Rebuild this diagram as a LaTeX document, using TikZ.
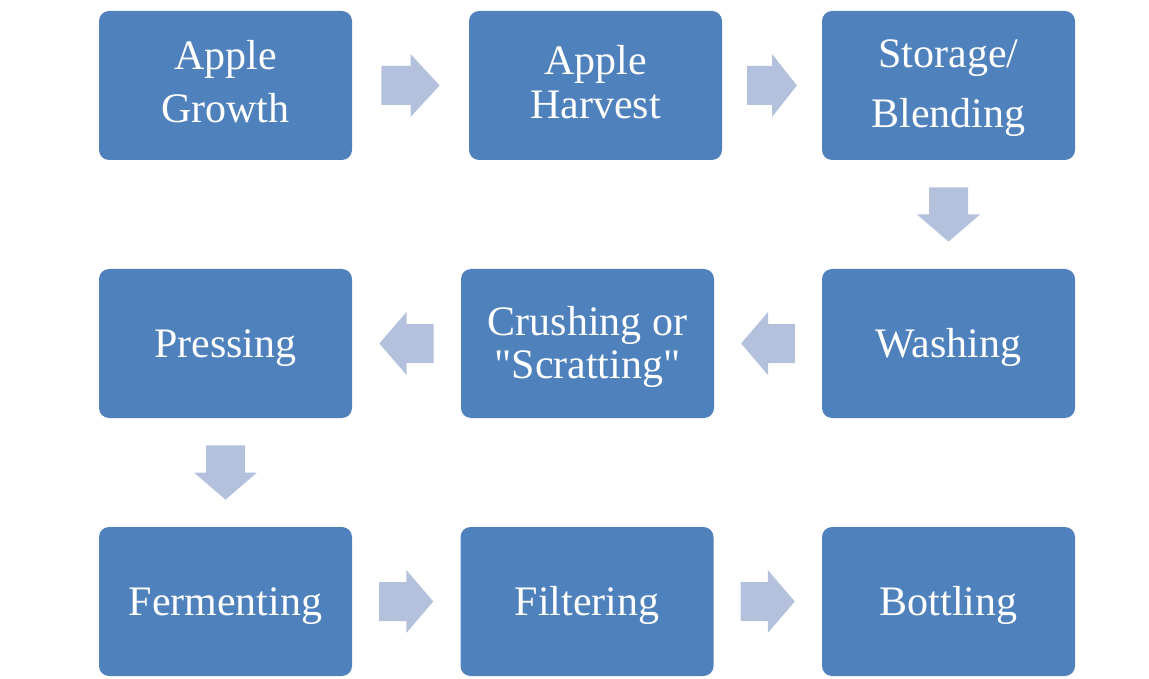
\documentclass[tikz,border=0pt]{standalone}
\usepackage{fontspec}
\setmainfont{Liberation Serif}[Ligatures=TeXOff]
\usetikzlibrary{calc}

\definecolor{stepblue}{RGB}{79,129,189}
\definecolor{arrowblue}{RGB}{179,193,221}

\tikzset{
  stepbox/.style={rectangle, rounded corners=10pt, fill=stepblue, draw=none,
    minimum width=253pt, minimum height=149pt, inner sep=0pt,
    text=white, align=center},
  oneline/.style={font=\fontsize{42}{50}\selectfont, text height=27.8pt, text depth=0pt},
  twoline/.style={font=\fontsize{42}{#1}\selectfont},
}

% two centred lines, one baselineskip apart, moved up by #1 (box size unchanged)
\newcommand{\steplines}[3]{\raisebox{#1}[\height][\depth]{\begin{tabular}{@{}c@{}}#2\\#3\end{tabular}}}

% block arrow filling the middle half of the gap between two anchors
\newcommand{\blockarrow}[2]{%
  \path ($(#1)!0.25!(#2)$) coordinate (ba-s)
        ($(#1)!0.5!(#2)$)  coordinate (ba-m)
        ($(#1)!0.75!(#2)$) coordinate (ba-e);
  \fill[arrowblue]
    ($(ba-s)!19.5pt!90:(ba-e)$) --
    ($(ba-m)!19.5pt!90:(ba-e)$) --
    ($(ba-m)!31.5pt!90:(ba-e)$) --
    (ba-e) --
    ($(ba-m)!31.5pt!-90:(ba-e)$) --
    ($(ba-m)!19.5pt!-90:(ba-e)$) --
    ($(ba-s)!19.5pt!-90:(ba-e)$) -- cycle;}

\begin{document}
\begin{tikzpicture}[x=1pt, y=-1pt]
  \useasboundingbox (0,0) rectangle (1149,679);

  % first row
  \node[stepbox, twoline=53] (growth)  at (225.5, 85.5) {\steplines{0pt}{Apple}{Growth}};
  \node[stepbox, twoline=44] (harvest) at (595.5, 85.5) {\steplines{-2.7pt}{Apple}{Harvest}};
  \node[stepbox, twoline=60] (storage) at (948.5, 85.5) {\steplines{0pt}{Storage/}{Blending}};

  % second row
  \node[stepbox, oneline]    (pressing) at (225.5, 343.5) {Pressing};
  \node[stepbox, twoline=43] (crushing) at (587.5, 343.5) {\steplines{-4.4pt}{Crushing or}{"Scratting"}};
  \node[stepbox, oneline]    (washing)  at (948.5, 343.5) {Washing};

  % third row
  \node[stepbox, oneline] (fermenting) at (225.5, 601.5) {Fermenting};
  \node[stepbox, oneline] (filtering)  at (587.0, 601.5) {Filtering};
  \node[stepbox, oneline] (bottling)   at (948.5, 601.5) {Bottling};

  % flow arrows
  \blockarrow{growth.east}{harvest.west}
  \blockarrow{harvest.east}{storage.west}
  \blockarrow{storage.south}{washing.north}
  \blockarrow{washing.west}{crushing.east}
  \blockarrow{crushing.west}{pressing.east}
  \blockarrow{pressing.south}{fermenting.north}
  \blockarrow{fermenting.east}{filtering.west}
  \blockarrow{filtering.east}{bottling.west}
\end{tikzpicture}
\end{document}
